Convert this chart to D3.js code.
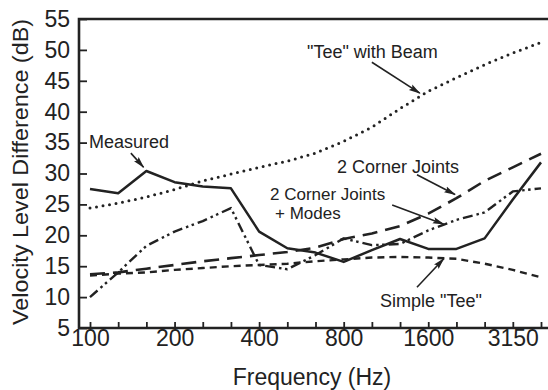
<!DOCTYPE html>
<html>
<head>
<meta charset="utf-8">
<script src="https://cdn.jsdelivr.net/npm/d3@7"></script>
<style>
    body { margin: 0; background: #fff; }
    svg { display: block; font-family: "Liberation Sans", Arial, Helvetica, sans-serif; }
</style>
</head>
<body>
<svg id="chart" width="548" height="390"></svg>
<script>
// Bandes de tiers d'octave (Hz)
const bands = [100, 125, 160, 200, 250, 315, 400, 500, 630, 800, 1000, 1250, 1600, 2000, 2500, 3150, 4000];
const bandLabels = [100, 200, 400, 800, 1600, 3150];
const yTicks = [5, 10, 15, 20, 25, 30, 35, 40, 45, 50, 55];

// Séries (dB)
const measured = [27.5, 26.8, 30.4, 28.6, 27.9, 27.6, 20.6, 17.9, 17.2, 15.7, 17.6, 19.4, 17.8, 17.8, 19.5, 25.8, 31.8];
const teeWithBeam = [24.4, 25.2, 26.2, 27.4, 28.8, 29.9, 31.0, 32.0, 33.3, 35.2, 37.5, 40.5, 43.3, 45.5, 47.6, 49.5, 51.2];
const cornerJoints = [13.7, 14.0, 14.6, 15.2, 15.8, 16.3, 16.8, 17.3, 18.0, 19.4, 20.3, 21.5, 23.5, 26.0, 28.8, 31.0, 33.2];
const cornerJointsModes = [10.0, 14.0, 18.3, 20.6, 22.3, 24.4, 15.2, 14.5, 16.8, 19.5, 18.4, 18.6, 20.8, 22.5, 23.7, 27.1, 27.6];
const simpleTee = [13.5, 13.8, 14.0, 14.4, 14.7, 15.0, 15.2, 15.4, 15.8, 16.1, 16.4, 16.5, 16.4, 16.2, 15.4, 14.4, 13.2];

function drawChart() {
    const ink = '#222';
    const svg = d3.select('#chart');

    // Zone du graphique
    const left = 79, right = 548, top = 19, bottom = 328;

    const xScale = d3.scalePoint().domain(bands).range([90, 541]);
    // échelle continue sur l'indice de bande, pour les flèches
    const xIdx = d3.scaleLinear().domain([0, bands.length - 1]).range([90, 541]);
    const yScale = d3.scaleLinear().domain([5, 55]).range([bottom, top]);

    // Axe X
    const xAxis = svg.append('g')
        .attr('transform', `translate(0,${bottom})`)
        .call(d3.axisBottom(xScale)
            .tickSizeInner(-6)
            .tickSizeOuter(0)
            .tickPadding(2)
            .tickFormat(d => bandLabels.includes(d) ? d : ''));
    xAxis.select('.domain').remove();
    xAxis.selectAll('line').attr('stroke', ink).attr('stroke-width', 1.8);
    xAxis.selectAll('text')
        .attr('fill', ink)
        .style('font-size', '23px')
        .attr('font-family', null);

    // Axe Y
    const yAxis = svg.append('g')
        .attr('transform', `translate(${left},0)`)
        .call(d3.axisLeft(yScale)
            .tickValues(yTicks)
            .tickSizeInner(-8)
            .tickSizeOuter(0)
            .tickPadding(9));
    yAxis.select('.domain').remove();
    yAxis.selectAll('line').attr('stroke', ink).attr('stroke-width', 1.8);
    yAxis.selectAll('text')
        .attr('fill', ink)
        .style('font-size', '23px')
        .attr('font-family', null);

    // Cadre (haut, gauche, bas)
    svg.append('path')
        .attr('d', `M${right},${top}H${left}V${bottom}H${right}`)
        .attr('fill', 'none')
        .attr('stroke', ink)
        .attr('stroke-width', 2.6);

    // Titres des axes
    svg.append('text')
        .attr('x', 312)
        .attr('y', 385)
        .attr('text-anchor', 'middle')
        .attr('fill', ink)
        .style('font-size', '23px')
        .text('Frequency (Hz)');

    svg.append('text')
        .attr('transform', 'translate(28,172) rotate(-90)')
        .attr('text-anchor', 'middle')
        .attr('fill', ink)
        .attr('textLength', 306)
        .attr('lengthAdjust', 'spacingAndGlyphs')
        .style('font-size', '22px')
        .text('Velocity Level Difference (dB)');

    // Courbes
    const series = [
        { name: 'teeWithBeam', values: teeWithBeam, width: 3, dash: '0,6.6', cap: 'round' },
        { name: 'simpleTee', values: simpleTee, width: 2.4, dash: '7,5', cap: 'butt' },
        { name: 'cornerJoints', values: cornerJoints, width: 2.6, dash: '15,8', cap: 'butt' },
        { name: 'cornerJointsModes', values: cornerJointsModes, width: 2.4, dash: '10,4,2.5,3.5,2.5,4', cap: 'butt' },
        { name: 'measured', values: measured, width: 2.5, dash: null, cap: 'butt' }
    ];

    const line = d3.line()
        .x((d, i) => xScale(bands[i]))
        .y(d => yScale(d));

    svg.append('g').selectAll('path')
        .data(series)
        .enter()
        .append('path')
        .attr('class', d => d.name)
        .attr('d', d => line(d.values))
        .attr('fill', 'none')
        .attr('stroke', ink)
        .attr('stroke-width', d => d.width)
        .attr('stroke-dasharray', d => d.dash)
        .attr('stroke-linecap', d => d.cap)
        .attr('stroke-linejoin', 'round');

    // Pointe de flèche
    svg.append('defs').append('marker')
        .attr('id', 'head')
        .attr('viewBox', '0 0 12 8')
        .attr('refX', 11)
        .attr('refY', 4)
        .attr('markerWidth', 12)
        .attr('markerHeight', 8)
        .attr('markerUnits', 'userSpaceOnUse')
        .attr('orient', 'auto')
        .append('path')
        .attr('d', 'M0,0.8L12,4L0,7.2L2,4Z')
        .attr('fill', ink);

    // Annotations : texte en pixels, flèche en (indice de bande, dB)
    const notes = [
        { lines: ['Measured'], x: 89, y: 148, size: 18, from: [1.45, 33.3], to: [1.9, 31.0] },
        { lines: ['"Tee" with Beam'], x: 307, y: 58, size: 18, from: [10.0, 48.0], to: [11.7, 43.0] },
        { lines: ['2 Corner Joints'], x: 337, y: 173, size: 18, from: [11.6, 29.8], to: [12.95, 26.6] },
        { lines: ['2 Corner Joints', '+ Modes'], x: 270, y: 200, size: 17, lead: 19, dx: [0, 5], from: [10.72, 24.9], to: [12.55, 21.8] },
        { lines: ['Simple "Tee"'], x: 380, y: 307, size: 18, from: [11.6, 11.6], to: [12.55, 16.2] }
    ];

    const noteGroup = svg.append('g');

    notes.forEach(function (n) {
        n.lines.forEach(function (t, k) {
            noteGroup.append('text')
                .attr('x', n.x + (n.dx ? n.dx[k] : 0))
                .attr('y', n.y + k * (n.lead || 0))
                .attr('fill', ink)
                .style('font-size', n.size + 'px')
                .text(t);
        });

        noteGroup.append('line')
            .attr('x1', xIdx(n.from[0]))
            .attr('y1', yScale(n.from[1]))
            .attr('x2', xIdx(n.to[0]))
            .attr('y2', yScale(n.to[1]))
            .attr('stroke', ink)
            .attr('stroke-width', 1.6)
            .attr('marker-end', 'url(#head)');
    });
}

drawChart();
</script>
</body>
</html>
